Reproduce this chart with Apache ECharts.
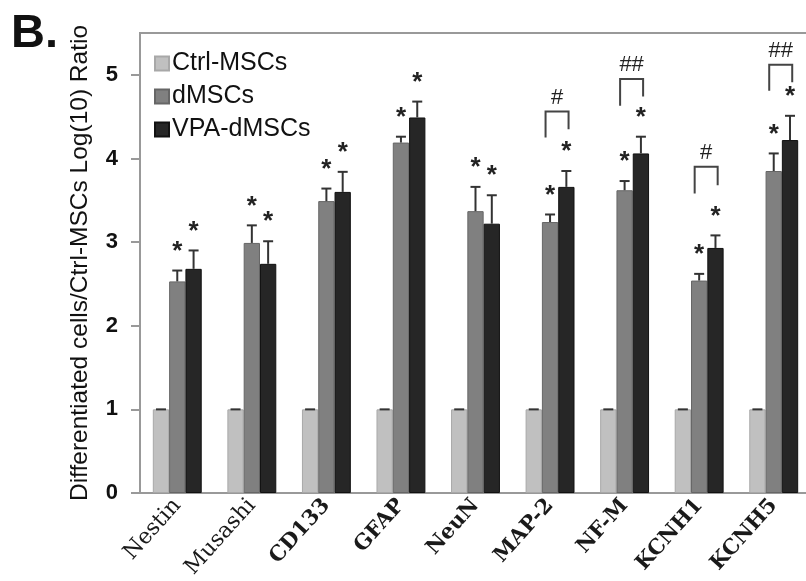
<!DOCTYPE html>
<html>
<head>
<meta charset="utf-8">
<script src="https://cdn.jsdelivr.net/npm/echarts@6/dist/echarts.min.js"></script>
<style>
  html, body { margin: 0; padding: 0; background: #fff; }
</style>
</head>
<body>
<div id="chart" style="width:806px;height:581px;"></div>
<script>
    // genes on the x axis
    var categories = ['Nestin', 'Musashi', 'CD133', 'GFAP', 'NeuN', 'MAP-2', 'NF-M', 'KCNH1', 'KCNH5'];
    var yTicks = [0, 1, 2, 3, 4, 5];

    // log10 ratio
    var ctrl    = [1, 1, 1, 1, 1, 1, 1, 1, 1];
    var dmsc    = [2.53, 2.99, 3.49, 4.19, 3.37, 3.24, 3.62, 2.54, 3.85];
    var dmscErr = [0.13, 0.21, 0.15, 0.07, 0.29, 0.09, 0.11, 0.08, 0.21];
    var vpa     = [2.68, 2.74, 3.60, 4.49, 3.22, 3.66, 4.06, 2.93, 4.22];
    var vpaErr  = [0.22, 0.27, 0.24, 0.19, 0.34, 0.19, 0.20, 0.15, 0.29];

    // dMSCs vs VPA-dMSCs comparison brackets
    var bracketCat   = [5, 6, 7, 8];
    var bracketTop   = [4.56, 4.95, 3.90, 5.12];
    var bracketLeft  = [4.25, 4.63, 3.58, 4.81];
    var bracketRight = [4.35, 4.74, 3.68, 4.91];
    var bracketMark  = ['#', '##', '#', '##'];

    var barW = 16.3;
    var sans = 'Liberation Sans, Arial, sans-serif';
    var serif = 'DejaVu Serif, serif';

    var myChart = echarts.init(document.getElementById('chart'));

    // error bar + star for one series, shifted by its bar offset
    function errorSeries(vals, errs, offset, star) {
        var data = [];
        for (var i = 0; i < vals.length; i++) {
            data.push([i, vals[i], vals[i] + errs[i]]);
        }
        return {
            type: 'custom',
            z: 5,
            data: data,
            encode: { x: 0, y: [1, 2] },
            renderItem: function (params, api) {
                var p0 = api.coord([api.value(0), api.value(1)]);
                var p1 = api.coord([api.value(0), api.value(2)]);
                var x = p0[0] + offset;
                var style = { stroke: '#333', lineWidth: 2 };
                var kids = [
                    { type: 'line', shape: { x1: x, y1: p0[1], x2: x, y2: p1[1] }, style: style },
                    { type: 'line', shape: { x1: x - 5, y1: p1[1], x2: x + 5, y2: p1[1] }, style: style }
                ];
                if (star) {
                    kids.push({
                        type: 'text',
                        style: {
                            text: '*', x: x, y: p1[1] - 6,
                            fill: '#222', font: 'bold 26px ' + sans,
                            align: 'center', verticalAlign: 'bottom'
                        }
                    });
                }
                return { type: 'group', children: kids };
            }
        };
    }

    var bracketData = [];
    for (var b = 0; b < bracketCat.length; b++) {
        bracketData.push([bracketCat[b], bracketTop[b], bracketLeft[b], bracketRight[b], bracketMark[b]]);
    }

    myChart.setOption({
        animation: false,
        grid: {
            left: 140,
            top: 33,
            width: 671,
            height: 460,
            outerBoundsMode: 'none',
            show: true,
            borderColor: '#999',
            borderWidth: 2
        },
        graphic: [{
            type: 'text',
            left: 11,
            top: 11,
            style: { text: 'B.', font: 'bold 47px ' + sans, fill: '#111' }
        }],
        legend: {
            data: ['Ctrl-MSCs', 'dMSCs', 'VPA-dMSCs'],
            orient: 'vertical',
            left: 149,
            top: 46,
            itemWidth: 14,
            itemHeight: 14,
            itemGap: 8,
            icon: 'rect',
            textStyle: { fontFamily: sans, fontSize: 25, color: '#111', padding: [0, 0, 0, -2] }
        },
        xAxis: {
            type: 'category',
            data: categories,
            boundaryGap: true,
            axisTick: { show: false },
            axisLine: { lineStyle: { color: '#999', width: 2 } },
            axisLabel: {
                interval: 0,
                rotate: 48,
                margin: 9,
                formatter: function (v, i) {
                    return i < 2 ? '{n|' + v + '}' : '{b|' + v + '}';
                },
                rich: {
                    n: { fontFamily: serif, fontSize: 22, color: '#1a1a1a' },
                    b: { fontFamily: serif, fontSize: 21, fontWeight: 'bold', color: '#1a1a1a' }
                }
            }
        },
        yAxis: {
            type: 'value',
            min: 0,
            max: 5.5,
            interval: 1,
            name: 'Differentiated cells/Ctrl-MSCs Log(10) Ratio',
            nameLocation: 'middle',
            nameRotate: 90,
            nameGap: 47,
            nameTextStyle: { fontFamily: sans, fontSize: 24.5, color: '#111' },
            axisLine: { show: true, lineStyle: { color: '#999', width: 2 } },
            axisTick: { show: true, length: 9, customValues: yTicks, lineStyle: { color: '#999', width: 2 } },
            axisLabel: { margin: 22, customValues: yTicks, fontFamily: sans, fontWeight: 'bold', fontSize: 22, color: '#111' },
            splitLine: { show: false }
        },
        series: [
            {
                name: 'Ctrl-MSCs', type: 'bar', data: ctrl,
                barWidth: barW, barGap: '0%',
                itemStyle: { color: '#c0c0c0', borderColor: '#a8a8a8', borderWidth: 1 }
            },
            {
                name: 'dMSCs', type: 'bar', data: dmsc,
                barWidth: barW, barGap: '0%',
                itemStyle: { color: '#808080', borderColor: '#666', borderWidth: 1 }
            },
            {
                name: 'VPA-dMSCs', type: 'bar', data: vpa,
                barWidth: barW, barGap: '0%',
                itemStyle: { color: '#262626', borderColor: '#111', borderWidth: 1 }
            },
            errorSeries(ctrl, [0, 0, 0, 0, 0, 0, 0, 0, 0], -barW, false),
            errorSeries(dmsc, dmscErr, 0, true),
            errorSeries(vpa, vpaErr, barW, true),
            {
                type: 'custom',
                z: 6,
                data: bracketData,
                encode: { x: 0, y: [1, 2, 3] },
                renderItem: function (params, api) {
                    var top = api.coord([api.value(0), api.value(1)]);
                    var l = api.coord([api.value(0), api.value(2)]);
                    var r = api.coord([api.value(0), api.value(3)]);
                    var cx = top[0] + 7;
                    var mark = bracketData[params.dataIndex][4];
                    return {
                        type: 'group',
                        children: [
                            {
                                type: 'polyline',
                                shape: { points: [[cx - 11.5, l[1]], [cx - 11.5, top[1]], [cx + 11.5, top[1]], [cx + 11.5, r[1]]] },
                                style: { stroke: '#444', lineWidth: 2, fill: null }
                            },
                            {
                                type: 'text',
                                style: {
                                    text: mark, x: cx, y: top[1] - 3,
                                    fill: '#222', font: '22px ' + sans,
                                    align: 'center', verticalAlign: 'bottom'
                                }
                            }
                        ]
                    };
                }
            }
        ]
    });
</script>
</body>
</html>
